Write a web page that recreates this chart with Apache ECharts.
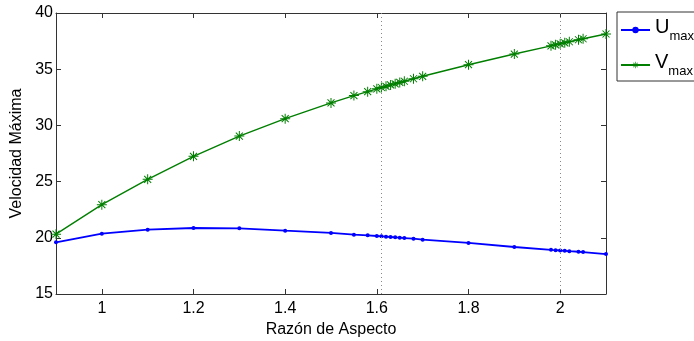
<!DOCTYPE html>
<html>
<head>
<meta charset="utf-8">
<script src="https://cdn.jsdelivr.net/npm/echarts@6/dist/echarts.min.js"></script>
<style>html,body{margin:0;padding:0;background:#fff;}#c{width:694px;height:341px;}</style>
</head>
<body>
<div id="c"></div>
<script>
var aspect = [0.9,1.0,1.1,1.2,1.3,1.4,1.5,1.55,1.58,1.6,1.61,1.62,1.63,1.64,1.65,1.66,1.68,1.7,1.8,1.9,1.98,1.99,2.0,2.01,2.02,2.04,2.05,2.1];
var uMax = [19.6,20.37,20.72,20.87,20.84,20.63,20.43,20.28,20.22,20.16,20.13,20.1,20.07,20.04,20.01,19.98,19.92,19.83,19.54,19.18,18.93,18.9,18.87,18.84,18.81,18.76,18.73,18.55];
var vMax = [20.32,22.95,25.2,27.25,29.05,30.6,32.0,32.65,33.0,33.25,33.37,33.48,33.6,33.7,33.82,33.93,34.15,34.37,35.4,36.35,37.08,37.17,37.26,37.35,37.44,37.62,37.71,38.13];
var xTicks = [1.0,1.2,1.4,1.6,1.8,2.0];
var refLines = [1.608,2.0];

var font = 'Liberation Sans, Arial, sans-serif';
var axisCol = '#333333';
function pairs(ys){ return aspect.map(function(x,i){ return [x, ys[i]]; }); }
var star = 'path://M9,0 L11,0 L11,20 L9,20 Z M0,9 L20,9 L20,11 L0,11 Z M2.3,3.7 L3.7,2.3 L17.7,16.3 L16.3,17.7 Z M16.3,2.3 L17.7,3.7 L3.7,17.7 L2.3,16.3 Z';

var chart = echarts.init(document.getElementById('c'));
chart.setOption({
  animation:false,
  backgroundColor:'#fff',
  grid:{left:56,right:88,top:13,bottom:47,containLabel:false,outerBoundsMode:'none'},
  xAxis:[{
    type:'value',min:0.9,max:2.1,
    name:'Razón de Aspecto',nameLocation:'middle',nameGap:27,
    nameTextStyle:{fontFamily:font,fontSize:16,color:'#000'},
    axisLine:{show:true,onZero:false,lineStyle:{color:axisCol,width:1}},
    axisTick:{show:true,inside:true,length:5,customValues:xTicks,lineStyle:{color:axisCol}},
    axisLabel:{customValues:xTicks,fontFamily:font,fontSize:16,color:'#000',margin:7,formatter:function(v){return String(+v.toFixed(1));}},
    splitLine:{show:false}
  },{
    type:'value',min:0.9,max:2.1,position:'top',
    axisLine:{show:true,onZero:false,lineStyle:{color:axisCol,width:1}},
    axisTick:{show:true,inside:true,length:5,customValues:xTicks,lineStyle:{color:axisCol}},
    axisLabel:{show:false},splitLine:{show:false}
  }],
  yAxis:[{
    type:'value',min:15,max:40,interval:5,
    name:'Velocidad Máxima',nameLocation:'middle',nameGap:24,
    nameTextStyle:{fontFamily:font,fontSize:16,color:'#000'},
    axisLine:{show:true,onZero:false,lineStyle:{color:axisCol,width:1}},
    axisTick:{show:true,inside:true,length:5,lineStyle:{color:axisCol}},
    axisLabel:{fontFamily:font,fontSize:16,color:'#000',margin:3},
    splitLine:{show:false}
  },{
    type:'value',min:15,max:40,interval:5,position:'right',
    axisLine:{show:true,onZero:false,lineStyle:{color:axisCol,width:1}},
    axisTick:{show:true,inside:true,length:5,lineStyle:{color:axisCol}},
    axisLabel:{show:false},splitLine:{show:false}
  }],
  legend:{
    left:617,top:12,orient:'vertical',
    backgroundColor:'#fff',borderColor:'#333',borderWidth:1,
    padding:[5,20,3,3],itemGap:9,itemWidth:29,itemHeight:8,
    data:['U','V'],
    formatter:function(n){ return '{m|'+n+'}{s|max}'; },
    textStyle:{fontFamily:font,color:'#000',
      rich:{m:{fontSize:20,fontFamily:font,color:'#000',verticalAlign:'top',lineHeight:22},
            s:{fontSize:13,fontFamily:font,color:'#000',verticalAlign:'bottom',padding:[13,0,0,0]}}}
  },
  series:[{
    name:'U',type:'line',data:pairs(uMax),
    symbol:'circle',symbolSize:4,showSymbol:true,
    lineStyle:{color:'#0000ff',width:1.8},itemStyle:{color:'#0000ff'},
    markLine:{silent:true,symbol:['none','none'],label:{show:false},
      lineStyle:{color:'#888',type:[1,3],width:1},
      data:refLines.map(function(v){return {xAxis:v};})}
  },{
    name:'V',type:'line',data:pairs(vMax),
    symbol:star,symbolSize:10,showSymbol:true,
    lineStyle:{color:'#007f00',width:1.4},itemStyle:{color:'#007f00'}
  }]
});
</script>
</body>
</html>
